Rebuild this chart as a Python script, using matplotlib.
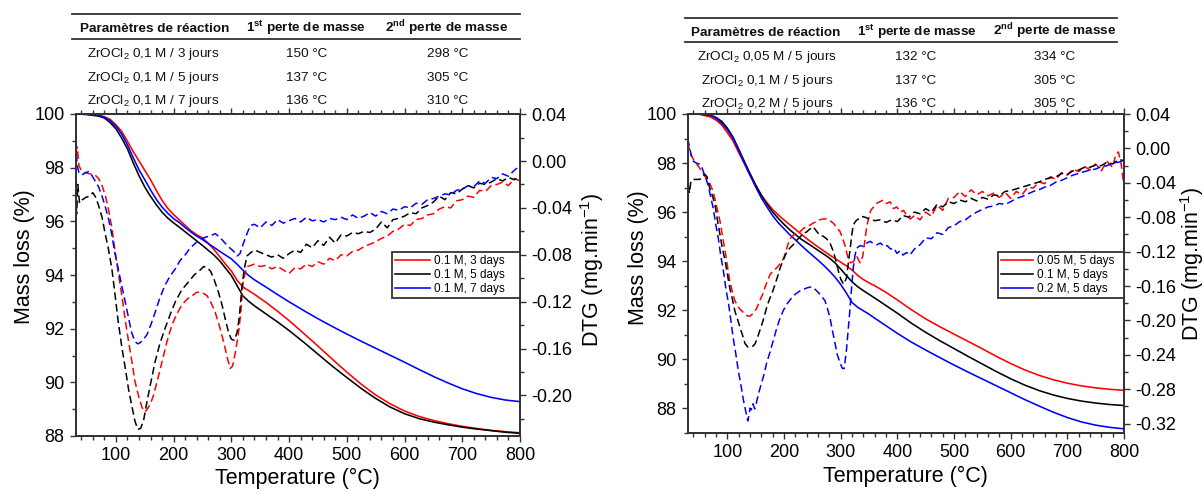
import matplotlib
matplotlib.use("Agg")
import matplotlib.pyplot as plt
from matplotlib.ticker import MultipleLocator, FixedLocator, FuncFormatter
from matplotlib.lines import Line2D

plt.rcParams['font.family'] = ['Liberation Sans', 'DejaVu Sans']
plt.rcParams['mathtext.fontset'] = 'custom'
plt.rcParams['mathtext.rm'] = 'Liberation Sans'
plt.rcParams['mathtext.it'] = 'Liberation Sans:italic'
plt.rcParams['mathtext.bf'] = 'Liberation Sans:bold'
plt.rcParams['mathtext.sf'] = 'Liberation Sans'
plt.rcParams['axes.unicode_minus'] = False

# ------------------------------------------------------------------ data
colors = ['#ff0000', '#000000', '#0000ff']

# left panel: 0.1 M, 3 / 5 / 7 days
labels_a = ['0.1 M, 3 days', '0.1 M, 5 days', '0.1 M, 7 days']
temp_mass_a = [30, 50, 70, 80, 90, 100, 110, 120, 130, 140, 150, 160, 170, 180, 190,
               200, 210, 220, 230, 240, 250, 260, 270, 280, 290, 300, 310, 320, 330,
               340, 360, 380, 400, 425, 450, 475, 500, 525, 550, 575, 600, 625, 650,
               675, 700, 725, 750, 775, 800]
mass_a_3d = [100.0, 99.99, 99.95, 99.9, 99.8, 99.6, 99.35, 98.98, 98.6, 98.25, 97.9,
             97.55, 97.15, 96.78, 96.48, 96.25, 96.05, 95.85, 95.65, 95.5, 95.38, 95.18,
             94.95, 94.68, 94.4, 94.15, 93.8, 93.55, 93.42, 93.28, 92.98, 92.65,
             92.3, 91.83, 91.35, 90.86, 90.38, 89.93, 89.53, 89.2, 88.93, 88.73, 88.58,
             88.46, 88.36, 88.28, 88.21, 88.16, 88.12]
mass_a_5d = [100.0, 99.98, 99.92, 99.85, 99.68, 99.45, 99.1, 98.7, 98.18, 97.7, 97.28,
             96.93, 96.62, 96.34, 96.12, 95.94, 95.78, 95.61, 95.44, 95.27, 95.1, 94.92,
             94.74, 94.52, 94.25, 93.98, 93.6, 93.22, 93.02, 92.85, 92.55, 92.25,
             91.93, 91.5, 91.05, 90.6, 90.18, 89.77, 89.4, 89.08, 88.83, 88.65, 88.52,
             88.42, 88.33, 88.26, 88.2, 88.14, 88.1]
mass_a_7d = [100.0, 99.99, 99.95, 99.88, 99.75, 99.55, 99.25, 98.85, 98.37, 97.92, 97.55,
             97.17, 96.82, 96.53, 96.3, 96.1, 95.95, 95.77, 95.6, 95.45, 95.32, 95.17,
             95.03, 94.88, 94.74, 94.6, 94.4, 94.18, 93.98, 93.82, 93.55, 93.27,
             93.0, 92.68, 92.37, 92.08, 91.8, 91.53, 91.27, 91.01, 90.75, 90.48, 90.22,
             89.98, 89.76, 89.58, 89.44, 89.34, 89.28]

dtg_a_3d = [(30, 0.006), (33, 0.012), (36, -0.004), (40, -0.008), (47, -0.010), (55, -0.011),
            (64, -0.012), (70, -0.015), (76, -0.021), (82, -0.030), (87, -0.041), (93, -0.057),
            (98, -0.075), (104, -0.095), (110, -0.114), (116, -0.135), (122, -0.154),
            (128, -0.172), (133, -0.188), (139, -0.200), (145, -0.210), (150, -0.214),
            (154, -0.212), (160, -0.207), (165, -0.200), (172, -0.187), (180, -0.171),
            (188, -0.155), (197, -0.140), (205, -0.131), (214, -0.123), (223, -0.118),
            (232, -0.115), (240, -0.112), (246, -0.112), (252, -0.113), (258, -0.115),
            (265, -0.121), (272, -0.129), (280, -0.142), (287, -0.155), (293, -0.168),
            (298, -0.177), (302, -0.175), (307, -0.163), (312, -0.148), (316, -0.131),
            (320, -0.105), (324, -0.095), (328, -0.090),
            (340, -0.088), (350, -0.090), (360, -0.089), (370, -0.092), (380, -0.090),
            (390, -0.093), (400, -0.096), (410, -0.091), (420, -0.092), (430, -0.088),
            (440, -0.090), (450, -0.086), (460, -0.088), (470, -0.083), (480, -0.085),
            (490, -0.080), (500, -0.081), (510, -0.077), (520, -0.076), (530, -0.073),
            (540, -0.071), (550, -0.069), (560, -0.066), (570, -0.064), (580, -0.060),
            (590, -0.058), (600, -0.054), (610, -0.055), (620, -0.050), (630, -0.049),
            (640, -0.046), (650, -0.045), (660, -0.041), (670, -0.039), (680, -0.040),
            (690, -0.034), (700, -0.033), (710, -0.030), (720, -0.031), (730, -0.025),
            (740, -0.026), (750, -0.021), (760, -0.020), (770, -0.018), (780, -0.021),
            (790, -0.015), (800, -0.017)]
dtg_a_5d = [(30, -0.030), (32, -0.045), (34, -0.020), (37, -0.036), (42, -0.033), (48, -0.031),
            (54, -0.030), (60, -0.027), (65, -0.031), (70, -0.038), (76, -0.048), (81, -0.061),
            (87, -0.075), (93, -0.092), (98, -0.112), (104, -0.137), (110, -0.158),
            (116, -0.176), (122, -0.195), (128, -0.210), (133, -0.222), (138, -0.229),
            (143, -0.228), (148, -0.221), (154, -0.205), (160, -0.190), (168, -0.171),
            (176, -0.156), (185, -0.143), (194, -0.131), (203, -0.120), (214, -0.110),
            (226, -0.103), (236, -0.097), (246, -0.093), (252, -0.090), (258, -0.091),
            (264, -0.094), (270, -0.101), (277, -0.111), (284, -0.123), (290, -0.136),
            (295, -0.146), (300, -0.152), (305, -0.153), (310, -0.146), (314, -0.132),
            (318, -0.109), (322, -0.093), (327, -0.081), (334, -0.078), (341, -0.076),
            (350, -0.078), (360, -0.080), (370, -0.082), (380, -0.080), (390, -0.083),
            (400, -0.079), (410, -0.076), (420, -0.078), (430, -0.071), (440, -0.074),
            (450, -0.068), (460, -0.072), (470, -0.065), (480, -0.070), (490, -0.063),
            (500, -0.064), (510, -0.061), (520, -0.062), (530, -0.060), (540, -0.061),
            (550, -0.058), (560, -0.052), (570, -0.057), (580, -0.050), (590, -0.049),
            (600, -0.047), (610, -0.044), (620, -0.045), (630, -0.040), (640, -0.038),
            (650, -0.035), (660, -0.030), (670, -0.033), (680, -0.027), (690, -0.028),
            (700, -0.024), (710, -0.021), (720, -0.023), (730, -0.019), (740, -0.020),
            (750, -0.018), (760, -0.015), (770, -0.017), (780, -0.014), (790, -0.016),
            (800, -0.013)]
dtg_a_7d = [(30, 0.026), (31, 0.012), (33, -0.004), (36, -0.010), (41, -0.012), (47, -0.010),
            (53, -0.009), (58, -0.012), (64, -0.017), (70, -0.022), (76, -0.030), (81, -0.038),
            (87, -0.049), (93, -0.063), (98, -0.078), (104, -0.092), (110, -0.106),
            (116, -0.120), (122, -0.134), (127, -0.146), (133, -0.154), (138, -0.156),
            (142, -0.155), (148, -0.152), (154, -0.148), (161, -0.139), (168, -0.129),
            (176, -0.117), (185, -0.106), (194, -0.098), (203, -0.092), (211, -0.085),
            (220, -0.080), (229, -0.074), (238, -0.070), (246, -0.067), (255, -0.065),
            (263, -0.064), (272, -0.062), (280, -0.065), (289, -0.070), (297, -0.074),
            (304, -0.077), (310, -0.081), (315, -0.079), (321, -0.070), (327, -0.062),
            (333, -0.055),
            (340, -0.054), (350, -0.057), (360, -0.052), (370, -0.055), (380, -0.050),
            (390, -0.053), (400, -0.051), (410, -0.049), (420, -0.052), (430, -0.048),
            (440, -0.051), (450, -0.050), (460, -0.052), (470, -0.049), (480, -0.050),
            (490, -0.048), (500, -0.050), (510, -0.046), (520, -0.049), (530, -0.047),
            (540, -0.044), (550, -0.047), (560, -0.043), (570, -0.045), (580, -0.041),
            (590, -0.042), (600, -0.039), (610, -0.040), (620, -0.036), (630, -0.037),
            (640, -0.033), (650, -0.032), (660, -0.030), (670, -0.028), (680, -0.029),
            (690, -0.025), (700, -0.024), (710, -0.021), (720, -0.022), (730, -0.017),
            (740, -0.019), (750, -0.014), (760, -0.015), (770, -0.011), (780, -0.013),
            (790, -0.008), (800, -0.004)]

# right panel: 0.05 / 0.1 / 0.2 M, 5 days
labels_b = ['0.05 M, 5 days', '0.1 M, 5 days', '0.2 M, 5 days']
temp_mass_b = [30, 50, 70, 80, 90, 100, 110, 120, 130, 140, 150, 160, 170, 180, 190,
               200, 210, 220, 230, 240, 250, 260, 270, 280, 290, 300, 310, 320, 330,
               340, 350, 360, 380, 400, 425, 450, 475, 500, 525, 550, 575, 600, 625,
               650, 675, 700, 725, 750, 775, 800]
mass_b_005 = [100.0, 99.99, 99.88, 99.75, 99.55, 99.23, 98.9, 98.42, 97.97, 97.5, 97.08,
              96.69, 96.38, 96.1, 95.88, 95.68, 95.49, 95.3, 95.11, 94.92, 94.75, 94.58,
              94.42, 94.26, 94.11, 93.96, 93.81, 93.64, 93.42, 93.25, 93.12, 93.0, 92.73,
              92.42, 92.02, 91.65, 91.33, 91.03, 90.73, 90.43, 90.12, 89.83, 89.57,
              89.35, 89.17, 89.03, 88.92, 88.84, 88.78, 88.74]
mass_b_01 = [100.0, 100.0, 99.95, 99.86, 99.7, 99.42, 99.05, 98.56, 98.06, 97.57, 97.1,
             96.68, 96.32, 96.0, 95.74, 95.5, 95.28, 95.09, 94.9, 94.75, 94.6, 94.44,
             94.29, 94.13, 93.93, 93.68, 93.41, 93.16, 92.96, 92.8, 92.65, 92.5, 92.19,
             91.88, 91.47, 91.1, 90.76, 90.44, 90.12, 89.81, 89.5, 89.21, 88.95,
             88.73, 88.55, 88.41, 88.3, 88.22, 88.16, 88.12]
mass_b_02 = [100.0, 100.0, 99.95, 99.82, 99.63, 99.35, 99.0, 98.5, 98.0, 97.5, 97.02,
             96.57, 96.2, 95.85, 95.56, 95.32, 95.08, 94.87, 94.65, 94.44, 94.24, 94.04,
             93.83, 93.6, 93.35, 93.05, 92.7, 92.32, 92.12, 91.98, 91.84, 91.68, 91.37,
             91.06, 90.7, 90.38, 90.07, 89.77, 89.48, 89.2, 88.92, 88.64, 88.36,
             88.1, 87.85, 87.63, 87.45, 87.32, 87.23, 87.17]

dtg_b_005 = [(30, 0.007), (33, -0.002), (37, -0.009), (41, -0.014), (46, -0.018), (52, -0.024),
             (58, -0.030), (63, -0.035), (69, -0.041), (74, -0.049), (78, -0.059), (82, -0.071),
             (87, -0.085), (91, -0.101), (96, -0.120), (100, -0.137), (104, -0.154),
             (109, -0.167), (113, -0.177), (118, -0.183), (122, -0.187), (127, -0.190),
             (131, -0.193), (136, -0.195), (140, -0.195), (145, -0.192), (149, -0.189),
             (153, -0.184), (157, -0.177), (162, -0.170), (166, -0.162), (170, -0.155),
             (175, -0.147), (181, -0.142), (187, -0.139), (193, -0.134), (199, -0.128),
             (203, -0.120), (208, -0.109), (212, -0.104), (216, -0.101), (222, -0.098),
             (228, -0.097), (234, -0.093), (240, -0.091), (246, -0.089), (251, -0.087),
             (257, -0.085), (263, -0.083), (269, -0.082), (275, -0.082), (281, -0.084),
             (287, -0.087), (293, -0.092), (299, -0.097), (304, -0.106), (308, -0.114),
             (313, -0.128), (317, -0.133), (322, -0.132), (328, -0.125), (334, -0.133),
             (339, -0.125), (343, -0.105), (346, -0.090), (349, -0.082), (353, -0.072),
             (358, -0.068), (363, -0.064), (369, -0.062), (375, -0.060), (381, -0.064),
             (387, -0.062), (393, -0.070), (399, -0.068), (405, -0.074), (411, -0.072),
             (417, -0.079), (423, -0.082), (430, -0.078), (440, -0.083), (450, -0.074),
             (460, -0.079), (470, -0.066), (480, -0.072), (490, -0.058), (500, -0.057),
             (510, -0.050), (520, -0.056), (530, -0.048), (540, -0.054), (550, -0.050),
             (560, -0.055), (570, -0.052), (580, -0.057), (590, -0.051), (600, -0.058),
             (610, -0.050), (620, -0.054), (630, -0.045), (640, -0.046), (650, -0.039),
             (660, -0.041), (670, -0.033), (680, -0.036), (690, -0.028), (700, -0.031),
             (710, -0.024), (720, -0.027), (730, -0.021), (740, -0.025), (750, -0.018),
             (760, -0.026), (770, -0.015), (780, -0.022), (785, -0.008), (790, -0.004),
             (795, -0.018), (800, -0.045)]
dtg_b_01 = [(30, -0.016), (31, -0.045), (33, -0.052), (35, -0.040), (38, -0.036), (44, -0.036),
            (50, -0.036), (55, -0.035), (60, -0.030), (64, -0.033), (69, -0.047), (74, -0.056),
            (78, -0.066), (82, -0.082), (87, -0.101), (91, -0.116), (96, -0.131),
            (100, -0.147), (104, -0.162), (109, -0.176), (113, -0.189), (118, -0.199),
            (122, -0.208), (127, -0.218), (131, -0.227), (136, -0.231), (140, -0.231),
            (145, -0.230), (149, -0.227), (153, -0.220), (157, -0.212), (162, -0.202),
            (166, -0.193), (170, -0.183), (175, -0.174), (180, -0.166), (184, -0.158),
            (189, -0.148), (193, -0.139), (199, -0.129), (205, -0.120), (210, -0.116),
            (216, -0.112), (222, -0.107), (228, -0.103), (234, -0.099), (240, -0.097),
            (245, -0.094), (251, -0.091), (257, -0.096), (263, -0.101), (269, -0.102),
            (275, -0.105), (281, -0.110), (287, -0.120), (292, -0.132), (296, -0.143),
            (300, -0.152), (305, -0.158), (310, -0.151), (313, -0.135), (316, -0.120),
            (319, -0.103), (322, -0.089), (327, -0.084), (331, -0.082), (337, -0.079),
            (343, -0.080), (350, -0.082), (360, -0.084), (370, -0.083), (380, -0.086),
            (390, -0.083), (400, -0.085), (410, -0.078), (420, -0.080), (430, -0.074),
            (440, -0.076), (450, -0.070), (460, -0.074), (470, -0.065), (480, -0.068),
            (490, -0.062), (500, -0.064), (510, -0.060), (520, -0.062), (530, -0.058),
            (540, -0.061), (550, -0.057), (560, -0.059), (570, -0.054), (580, -0.055),
            (590, -0.050), (600, -0.049), (610, -0.047), (620, -0.045), (630, -0.043),
            (640, -0.041), (650, -0.039), (660, -0.036), (670, -0.034), (680, -0.033),
            (690, -0.029), (700, -0.030), (710, -0.026), (720, -0.025), (730, -0.022),
            (740, -0.022), (750, -0.019), (760, -0.020), (770, -0.016), (780, -0.018),
            (790, -0.013), (800, -0.014)]
dtg_b_02 = [(30, 0.012), (31, 0.008), (33, 0.002), (36, -0.008), (40, -0.015), (45, -0.017),
            (50, -0.018), (54, -0.020), (58, -0.028), (62, -0.035), (66, -0.043), (70, -0.055),
            (75, -0.070), (79, -0.087), (84, -0.105), (88, -0.124), (93, -0.143),
            (97, -0.162), (102, -0.181), (106, -0.200), (110, -0.220), (115, -0.240),
            (119, -0.258), (124, -0.276), (128, -0.292), (132, -0.305), (136, -0.317),
            (138, -0.310), (140, -0.302), (142, -0.304), (145, -0.297), (148, -0.303),
            (151, -0.296), (155, -0.285), (160, -0.273), (165, -0.262), (169, -0.250),
            (175, -0.237), (181, -0.223), (187, -0.209), (193, -0.197), (199, -0.188),
            (205, -0.181), (212, -0.175), (219, -0.170), (227, -0.166), (234, -0.164),
            (241, -0.162), (249, -0.161), (255, -0.164), (261, -0.168), (266, -0.172),
            (272, -0.177), (276, -0.185), (281, -0.197), (285, -0.211), (290, -0.227),
            (294, -0.240), (299, -0.250), (303, -0.256), (306, -0.256), (310, -0.235),
            (313, -0.212), (316, -0.189), (319, -0.163), (322, -0.139), (325, -0.125),
            (328, -0.116), (334, -0.113), (340, -0.114), (346, -0.110), (352, -0.108),
            (358, -0.111), (364, -0.112), (370, -0.110), (376, -0.114), (382, -0.113),
            (388, -0.117), (394, -0.116), (399, -0.122), (405, -0.119), (410, -0.124),
            (416, -0.121), (422, -0.124), (430, -0.117), (440, -0.112), (450, -0.104),
            (460, -0.105), (470, -0.098), (480, -0.100), (490, -0.092), (500, -0.090),
            (510, -0.085), (520, -0.083), (530, -0.078), (540, -0.074), (550, -0.071),
            (560, -0.068), (570, -0.067), (580, -0.064), (590, -0.065), (600, -0.062),
            (610, -0.058), (620, -0.056), (630, -0.053), (640, -0.050), (650, -0.048),
            (660, -0.045), (670, -0.043), (680, -0.039), (690, -0.037), (700, -0.034),
            (710, -0.031), (720, -0.029), (730, -0.027), (740, -0.025), (750, -0.024),
            (760, -0.021), (770, -0.020), (780, -0.017), (790, -0.016), (800, -0.014)]

dtg_ticks_a = [0.04, 0.00, -0.04, -0.08, -0.12, -0.16, -0.20]
dtg_ticks_b = [0.04, 0.00, -0.04, -0.08, -0.12, -0.16, -0.20, -0.24, -0.28, -0.32]

# tables
table_head = ['Paramètres de réaction', r'1$^{\mathbf{st}}$ perte de masse',
              r'2$^{\mathbf{nd}}$ perte de masse']
table_a_rows = [[r'ZrOCl$_\mathrm{2}$ 0,1 M / 3 jours', '150 °C', '298 °C'],
                [r'ZrOCl$_\mathrm{2}$ 0,1 M / 5 jours', '137 °C', '305 °C'],
                [r'ZrOCl$_\mathrm{2}$ 0,1 M / 7 jours', '136 °C', '310 °C']]
table_b_rows = [[r'ZrOCl$_\mathrm{2}$ 0,05 M / 5 jours', '132 °C', '334 °C'],
                [r'ZrOCl$_\mathrm{2}$ 0,1 M / 5 jours', '137 °C', '305 °C'],
                [r'ZrOCl$_\mathrm{2}$ 0,2 M / 5 jours', '136 °C', '305 °C']]

# ------------------------------------------------------------------ figure
W, H = 1204, 493
fig = plt.figure(figsize=(W / 100, H / 100), dpi=100, facecolor='white')
SPINE = '#333333'


def fx(px):
    return px / W


def fy(py):
    return 1 - py / H


def fmt_dtg(v, pos):
    return f"{round(v, 2) + 0.0:.2f}"


def panel(rect, t_mass, masses, dtgs, labels, ylim_m, ylim_d, dticks,
          leg_anchor, handlelen, ylab_xy, dlab_xy, xlab_y):
    ax = fig.add_axes(rect)
    ax2 = ax.twinx()
    lines = []
    for m, c, lab in zip(masses, colors, labels):
        ln, = ax.plot(t_mass, m, color=c, lw=1.15, label=lab, zorder=3)
        lines.append(ln)
    for d, c in zip(dtgs, colors):
        ax2.plot([p[0] for p in d], [p[1] for p in d], color=c, lw=1.1,
                 ls=(0, (5, 2.6)), zorder=2)
    ax.set_xlim(30, 800)
    ax.set_ylim(*ylim_m)
    ax2.set_ylim(*ylim_d)
    ax.xaxis.set_major_locator(MultipleLocator(100))
    ax.xaxis.set_minor_locator(MultipleLocator(20))
    ax.yaxis.set_major_locator(MultipleLocator(2))
    ax.yaxis.set_minor_locator(MultipleLocator(1))
    ax2.yaxis.set_major_locator(FixedLocator(dticks))
    minor = [round(t - 0.02, 2) for t in dticks]
    ax2.yaxis.set_minor_locator(FixedLocator(minor))
    ax2.yaxis.set_major_formatter(FuncFormatter(fmt_dtg))
    for a in (ax, ax2):
        a.tick_params(which='major', length=4.5, width=1.0, direction='out',
                      labelsize=13, pad=3.5, color=SPINE)
        a.tick_params(which='minor', length=2.6, width=1.0, direction='out', color=SPINE)
        for s in a.spines.values():
            s.set_linewidth(1.3)
            s.set_color(SPINE)
    ax.tick_params(axis='x', which='both', top=True, labeltop=False)
    ax.set_xlabel('Temperature (°C)', fontsize=15.5)
    ax.xaxis.set_label_coords(0.5, xlab_y)
    ax.set_ylabel('Mass loss (%)', fontsize=15.5)
    ax.yaxis.set_label_coords(*ylab_xy)
    ax2.set_ylabel('DTG (mg.min$^{-1}$)', fontsize=15.5)
    ax2.yaxis.set_label_coords(*dlab_xy)
    leg = ax2.legend(handles=lines, loc='upper left', bbox_to_anchor=leg_anchor,
                     mode='expand', borderaxespad=0, fontsize=8.5, frameon=True,
                     fancybox=False, framealpha=1, edgecolor=SPINE,
                     handlelength=handlelen, handletextpad=0.3, labelspacing=0.15,
                     borderpad=0.3)
    leg.get_frame().set_linewidth(1.3)
    return ax, ax2


panel([fx(75.5), fy(436), fx(444.5), 322 / H], temp_mass_a,
      [mass_a_3d, mass_a_5d, mass_a_7d], [dtg_a_3d, dtg_a_5d, dtg_a_7d], labels_a,
      (88, 100), (-0.2346, 0.0401), dtg_ticks_a,
      (0.711, 0.372, 0.289, 0.2), 3.0,
      (-0.091, 0.556), (1.1305, 0.516), -0.10)

panel([fx(687.8), fy(433), fx(436.2), 319 / H], temp_mass_b,
      [mass_b_005, mass_b_01, mass_b_02], [dtg_b_005, dtg_b_01, dtg_b_02], labels_b,
      (87, 100), (-0.331, 0.0401), dtg_ticks_b,
      (0.711, 0.368, 0.289, 0.2), 2.7,
      (-0.090, 0.5486), (1.1233, 0.53), -0.104)


def draw_table(rows, col_x, rule_x, rule_top, rule_mid, base_head, base_rows):
    for yy in (rule_top, rule_mid):
        fig.add_artist(Line2D([fx(rule_x[0]), fx(rule_x[1])], [fy(yy), fy(yy)],
                              transform=fig.transFigure, color=SPINE, lw=1.3))
    for txt, x in zip(table_head, col_x[0]):
        fig.text(fx(x), fy(base_head), txt, ha='center', va='baseline',
                 fontsize=9.7, fontweight='bold', color='#111111')
    for row, yb in zip(rows, base_rows):
        for txt, x in zip(row, col_x[1]):
            fig.text(fx(x), fy(yb), txt, ha='center', va='baseline',
                     fontsize=9.7, color='#111111')


draw_table(table_a_rows, ([155, 306, 447], [153.5, 306.7, 448]), (72, 520), 14, 39.3,
           32.3, [56.7, 81.0, 104.3])
draw_table(table_b_rows, ([766, 916.7, 1055], [767, 915.8, 1055]), (685, 1117), 18.3, 42.3,
           35.7, [60.0, 84.0, 106.7])

fig.savefig('out.png', dpi=100, facecolor='white')
